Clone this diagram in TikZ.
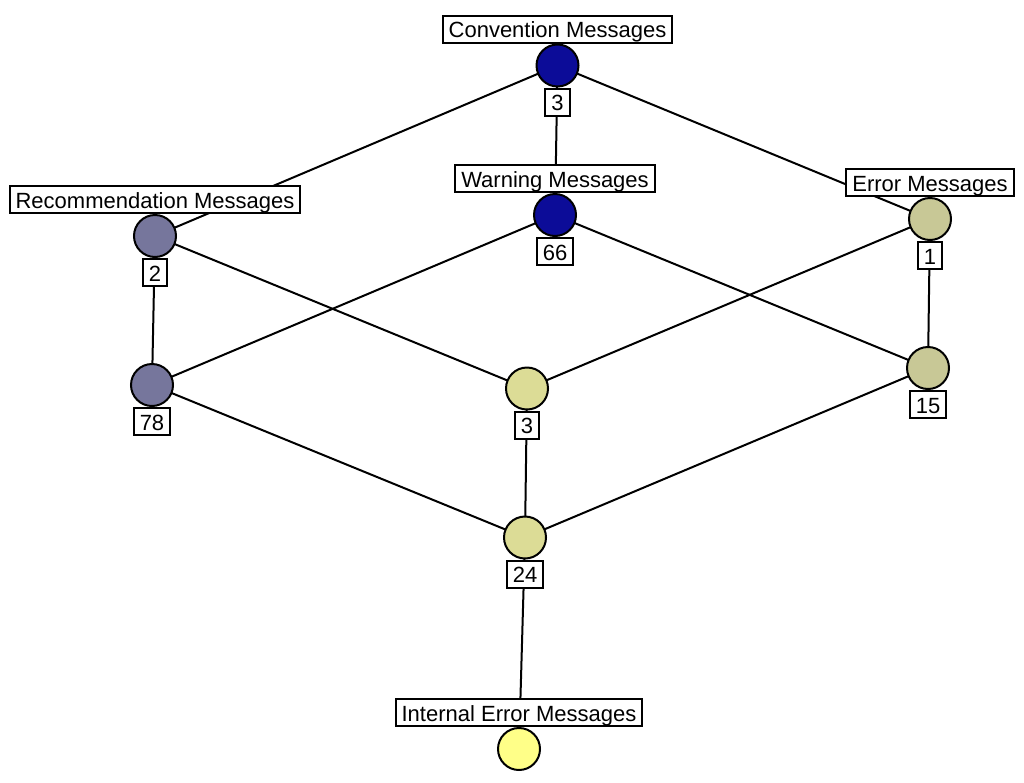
\documentclass[tikz,border=0pt]{standalone}
\usepackage{fontspec}
\setmainfont{Liberation Sans}
\usetikzlibrary{backgrounds}
\definecolor{cblue}{RGB}{12,12,152}
\definecolor{cgrey}{RGB}{118,118,156}
\definecolor{ckhaki}{RGB}{200,200,150}
\definecolor{clight}{RGB}{220,220,150}
\definecolor{cyel}{RGB}{255,255,136}
\tikzset{
  conc/.style={circle, draw=black, line width=2pt, minimum size=42pt, inner sep=0pt},
  lab/.style={draw=black, fill=white, line width=2pt, inner xsep=6pt, inner ysep=0pt,
    minimum height=27pt, text height=19pt, text depth=2pt,
    font=\fontsize{22}{24}\selectfont},
  edge/.style={draw=black, line width=2pt}
}
\begin{document}
\begin{tikzpicture}[x=1pt,y=-1pt]
\useasboundingbox (0,0) rectangle (1024,782);
% concepts
\node[conc, fill=cblue] (conv) at (557.5,65.5) {};
\node[conc, fill=cblue] (warn) at (555,215) {};
\node[conc, fill=cgrey] (rec) at (155,236) {};
\node[conc, fill=ckhaki] (err) at (930,219) {};
\node[conc, fill=cgrey] (n78) at (152,385) {};
\node[conc, fill=clight] (n3) at (527,388.5) {};
\node[conc, fill=ckhaki] (n15) at (928,368) {};
\node[conc, fill=clight] (n24) at (525,537.5) {};
\node[conc, fill=cyel] (intl) at (519,749) {};
% attribute labels
\node[lab, anchor=south] (convL) at (conv.north) {Convention Messages};
\node[lab, anchor=south] (warnL) at (warn.north) {Warning Messages};
\node[lab, anchor=south] (recL) at (rec.north) {Recommendation Messages};
\node[lab, anchor=south] (errL) at (err.north) {Error Messages};
\node[lab, anchor=south] (intlL) at (intl.north) {Internal Error Messages};
% counts
\node[lab, anchor=north] (convC) at (conv.south) {3};
\node[lab, anchor=north] (warnC) at (warn.south) {66};
\node[lab, anchor=north] (recC) at (rec.south) {2};
\node[lab, anchor=north] (errC) at (err.south) {1};
\node[lab, anchor=north] (n78C) at (n78.south) {78};
\node[lab, anchor=north] (n3C) at (n3.south) {3};
\node[lab, anchor=north] (n15C) at (n15.south) {15};
\node[lab, anchor=north] (n24C) at (n24.south) {24};
% edges
\begin{pgfonlayer}{background}
\fill[white] (0,0) rectangle (1024,782);
\draw[edge] (conv.center) -- (rec.center);
\draw[edge] (conv.center) -- (warn.center);
\draw[edge] (conv.center) -- (err.center);
\draw[edge] (rec.center) -- (n78.center);
\draw[edge] (rec.center) -- (n3.center);
\draw[edge] (warn.center) -- (n78.center);
\draw[edge] (warn.center) -- (n15.center);
\draw[edge] (err.center) -- (n3.center);
\draw[edge] (err.center) -- (n15.center);
\draw[edge] (n78.center) -- (n24.center);
\draw[edge] (n3.center) -- (n24.center);
\draw[edge] (n15.center) -- (n24.center);
\draw[edge] (n24.center) -- (intl.center);
\end{pgfonlayer}
\end{tikzpicture}
\end{document}
